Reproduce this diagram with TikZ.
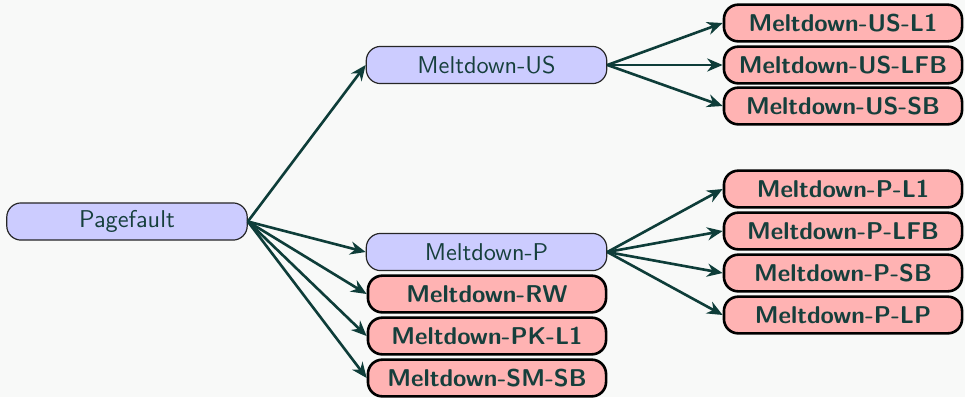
\documentclass[tikz,border=0pt]{standalone}
\usepackage{xcolor}
\usepackage{tikz}
\usetikzlibrary{arrows.meta}
\definecolor{pagebg}{HTML}{F8F9F8}
\definecolor{inktext}{HTML}{163F3C}
\definecolor{inkarrow}{HTML}{0E3D39}
\definecolor{variantbg}{HTML}{CCCCFF}
\definecolor{leafbg}{HTML}{FFB3B3}
\begin{document}
\begin{tikzpicture}[
  x=0.42pt, y=-0.42pt,
  font=\sffamily\fontsize{10.2}{12}\selectfont,
  variant/.style={draw=black!85,fill=variantbg,rounded corners=6pt,line width=0.5pt,
    align=center,inner sep=0pt,minimum width=101pt,minimum height=15.6pt,text=inktext},
  leaf/.style={draw=black,fill=leafbg,rounded corners=6pt,line width=1.1pt,
    align=center,inner sep=0pt,minimum width=100pt,minimum height=15.4pt,text=inktext,
    font=\sffamily\bfseries\fontsize{10.2}{12}\selectfont},
  ar/.style={-{Stealth[length=6.5pt,width=5.5pt]},line width=1.1pt,inkarrow}
]
\useasboundingbox[fill=pagebg] (0,0) rectangle (965,397);

\node[variant] (pagefault) at (127, 221.5) {Pagefault};

% ==================== second level ====================
\node[variant] (md_us) at (486.5, 65) {Meltdown-US};
\node[variant] (md_p) at (486.5, 252) {Meltdown-P};
\node[leaf] (md_rw) at (487, 294) {Meltdown-RW};
\node[leaf] (md_pk) at (487, 336) {Meltdown-PK-L1};
\node[leaf] (md_sm) at (487, 378) {Meltdown-SM-SB};

\draw[ar] (pagefault.east) -- (md_us.west);
\draw[ar] (pagefault.east) -- (md_p.west);
\draw[ar] (pagefault.east) -- (md_rw.west);
\draw[ar] (pagefault.east) -- (md_pk.west);
\draw[ar] (pagefault.east) -- (md_sm.west);

% ==================== Meltdown-US leaves ====================
\node[leaf] (us_l1) at (843, 23) {Meltdown-US-L1};
\node[leaf] (us_lfb) at (843, 65) {Meltdown-US-LFB};
\node[leaf] (us_sb) at (843, 106) {Meltdown-US-SB};

\draw[ar] (md_us.east) -- (us_l1.west);
\draw[ar] (md_us.east) -- (us_lfb.west);
\draw[ar] (md_us.east) -- (us_sb.west);

% ==================== Meltdown-P leaves ====================
\node[leaf] (p_l1) at (843, 189) {Meltdown-P-L1};
\node[leaf] (p_lfb) at (843, 231) {Meltdown-P-LFB};
\node[leaf] (p_sb) at (843, 273) {Meltdown-P-SB};
\node[leaf] (p_lp) at (843, 315) {Meltdown-P-LP};

\draw[ar] (md_p.east) -- (p_l1.west);
\draw[ar] (md_p.east) -- (p_lfb.west);
\draw[ar] (md_p.east) -- (p_sb.west);
\draw[ar] (md_p.east) -- (p_lp.west);

\end{tikzpicture}
\end{document}
